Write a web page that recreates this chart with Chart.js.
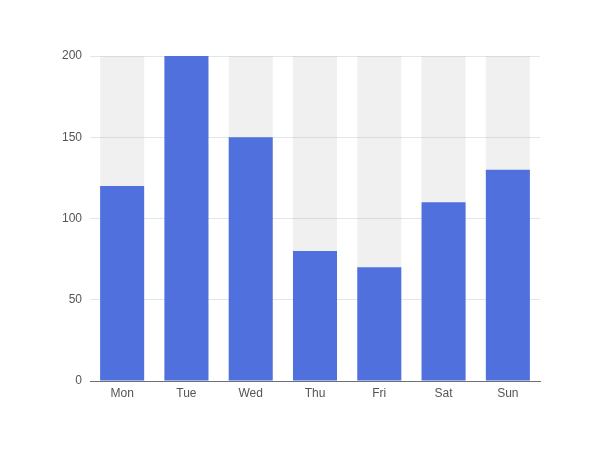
<!DOCTYPE html>
<html>
<head>
<meta charset="utf-8">
<script src="https://cdn.jsdelivr.net/npm/chart.js@4/dist/chart.umd.min.js"></script>
<style>
html,body{margin:0;padding:0;background:#fff;}
#wrap{width:600px;height:450px;position:relative;}
</style>
</head>
<body>
<div id="wrap"><canvas id="c" width="600" height="450"></canvas></div>
<script>
const categories = ['Mon', 'Tue', 'Wed', 'Thu', 'Fri', 'Sat', 'Sun'];
const values = [120, 200, 150, 80, 70, 110, 130];
const backgroundValues = [200, 200, 200, 200, 200, 200, 200];
const yTicks = [0, 50, 100, 150, 200];

Chart.defaults.font.family = "'Liberation Sans', Arial, sans-serif";
Chart.defaults.font.size = 12;
Chart.defaults.color = '#555';

new Chart(document.getElementById('c'), {
  type: 'bar',
  data: {
    labels: categories,
    datasets: [
      {
        data: values,
        backgroundColor: '#5070dd',
        borderWidth: 0,
        grouped: false,
        categoryPercentage: 1,
        barPercentage: 0.685,
        order: 0
      },
      {
        data: backgroundValues,
        backgroundColor: 'rgba(180,180,180,0.2)',
        borderWidth: 0,
        grouped: false,
        categoryPercentage: 1,
        barPercentage: 0.685,
        order: 1
      }
    ]
  },
  options: {
    responsive: false,
    animation: false,
    devicePixelRatio: 1,
    layout: { padding: { top: 56, right: 60, left: 0, bottom: 0 } },
    plugins: { legend: { display: false }, tooltip: { enabled: false } },
    scales: {
      x: {
        grid: { display: false, drawTicks: false },
        border: { display: true, color: '#6E7079', width: 1 },
        ticks: { padding: 5, color: '#555', font: { size: 12 } },
        afterFit: (s) => { s.height = 69; }
      },
      y: {
        min: 0,
        max: 200,
        afterBuildTicks: (s) => { s.ticks = yTicks.map(v => ({ value: v })); },
        grid: { color: '#E0E6F1', drawTicks: false },
        border: { display: false },
        ticks: { padding: 8, color: '#555', font: { size: 12 } },
        afterFit: (s) => { s.width = 90; }
      }
    }
  }
});
</script>
</body>
</html>
